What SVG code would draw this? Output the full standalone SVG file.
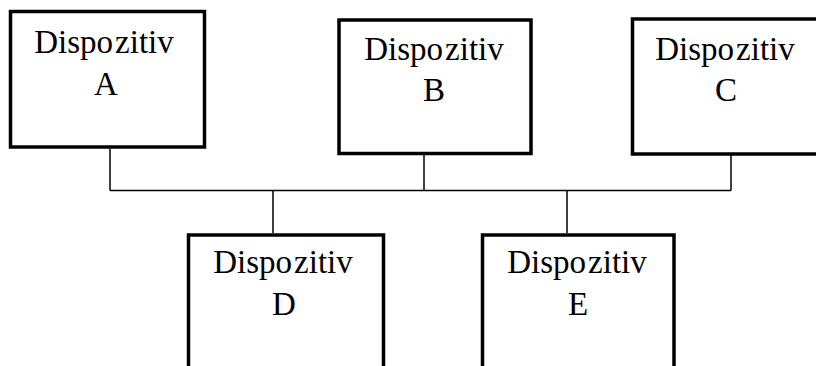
<svg xmlns="http://www.w3.org/2000/svg" width="816" height="366" viewBox="0 0 816 366">
  <style>
    .box { fill: #ffffff; stroke: #000000; stroke-width: 3.5; }
    .wire { fill: none; stroke: #000000; stroke-width: 1.5; }
    .label { font-family: "Liberation Serif", "Times New Roman", serif; font-size: 33px; fill: #000000; text-anchor: middle; }
  </style>
  <rect width="816" height="366" fill="#ffffff"/>

  <!-- shared bus and drop lines -->
  <g id="connectors">
    <path class="wire" d="M110 190.5 H731"/>
    <path class="wire" d="M110 149 V190.5"/>
    <path class="wire" d="M424 155 V190.5"/>
    <path class="wire" d="M731 155 V190.5"/>
    <path class="wire" d="M273 190.5 V233"/>
    <path class="wire" d="M567 190.5 V233"/>
  </g>

  <g id="device-a">
    <rect class="box" x="10.5" y="11.5" width="194" height="135.5"/>
    <text class="label" x="104" y="53">Dispo<tspan dx="2">zitiv</tspan></text>
    <text class="label" x="106" y="95">A</text>
  </g>

  <g id="device-b">
    <rect class="box" x="339" y="20" width="192" height="133.5"/>
    <text class="label" x="434" y="60">Dispo<tspan dx="2">zitiv</tspan></text>
    <text class="label" x="434" y="101">B</text>
  </g>

  <g id="device-c">
    <rect class="box" x="632.5" y="19" width="194" height="135"/>
    <text class="label" x="725" y="60">Dispo<tspan dx="2">zitiv</tspan></text>
    <text class="label" x="726" y="101">C</text>
  </g>

  <g id="device-d">
    <rect class="box" x="188.5" y="235" width="195" height="150"/>
    <text class="label" x="283" y="273">Dispo<tspan dx="2">zitiv</tspan></text>
    <text class="label" x="284" y="315">D</text>
  </g>

  <g id="device-e">
    <rect class="box" x="482.5" y="235" width="191.5" height="150"/>
    <text class="label" x="577" y="273">Dispo<tspan dx="2">zitiv</tspan></text>
    <text class="label" x="578" y="315">E</text>
  </g>
</svg>
